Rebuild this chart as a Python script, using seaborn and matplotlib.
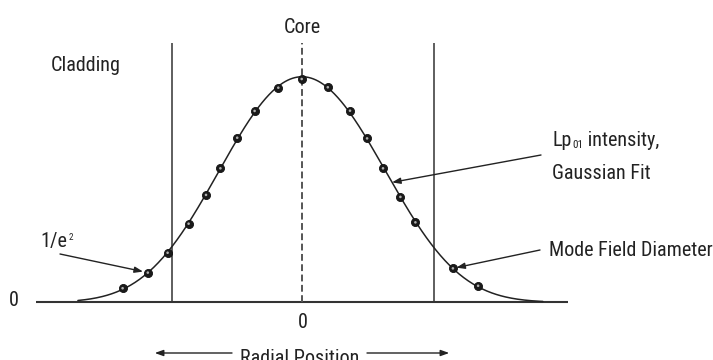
import numpy as np
import pandas as pd
import matplotlib
matplotlib.use("Agg")
import matplotlib.pyplot as plt
from matplotlib import font_manager
import seaborn as sns

# Sampled LP01 intensity profile (radial position in µm, normalised intensity)
radial_um = [-5.97, -5.13, -4.47, -3.77, -3.19, -2.71, -2.15, -1.57, -0.78, 0.0,
             0.87, 1.61, 2.18, 2.71, 3.29, 3.79, 5.04, 5.88]
intensity = [0.063, 0.133, 0.222, 0.352, 0.481, 0.600, 0.737, 0.857, 0.961, 1.0,
             0.963, 0.858, 0.734, 0.600, 0.472, 0.358, 0.152, 0.074]

core_edges_um = [-4.31, 4.41]
axis_ticks = ["0", "0"]

sns.set_style("white")


def pick_condensed_font():
    """Return a FontProperties for a narrow sans face if one is installed."""
    files = font_manager.findSystemFonts()
    prefs = ["LiberationSansNarrow-Regular", "RobotoCondensed-Regular",
             "Roboto_Condensed-Regular", "DejaVuSansCondensed.", "OpenSans_Condensed-Regular",
             "OpenSansCondensed", "NotoSans-Condensed.", "NotoSansCondensed-Regular"]
    for key in prefs:
        for f in files:
            if key.lower() in f.lower().replace(" ", ""):
                return font_manager.FontProperties(fname=f)
    for f in files:
        low = f.lower()
        if ("condensed" in low or "narrow" in low) and "bold" not in low and "italic" not in low \
                and "oblique" not in low:
            return font_manager.FontProperties(fname=f)
    return font_manager.FontProperties(family="DejaVu Sans", stretch="condensed")


base_font = pick_condensed_font()


def font(size):
    fp = base_font.copy()
    fp.set_size(size)
    return fp


W, H = 713, 360
fig = plt.figure(figsize=(W / 100, H / 100), dpi=100)
ax = fig.add_axes([0, 0, 1, 1])

# pixel frame: centre of profile at x=301.7 px, baseline at y=302.3 px
X0, Y0, SX, SY = 301.7, 302.3, 30.0, 223.3


def fpos(px, py):
    return px / W, 1 - py / H


ink = "#222222"
fs = 14.5

df = pd.DataFrame({"r": radial_um, "I": intensity})

# Gaussian-type fit in log space (quadratic plus quartic correction)
coef = np.polyfit(df["r"], np.log(df["I"]), 4, w=df["I"])
r_fit = np.linspace(-7.46, 8.04, 400)
fit = pd.DataFrame({"r": r_fit, "I": np.exp(np.polyval(coef, r_fit))})

# baseline, core boundaries and core axis
ax.hlines(0, (36 - X0) / SX, (568 - X0) / SX, color="#333333", lw=1.5, zorder=1)
top = (Y0 - 43) / SY
ax.vlines(core_edges_um, 0, top, color="#333333", lw=1.1, zorder=1)
ax.vlines(0, 0, top, color="#555555", lw=1.4, linestyles=(0, (3.5, 1.8)), zorder=1)

sns.lineplot(data=fit, x="r", y="I", color=ink, lw=1.1, ax=ax, zorder=2, legend=False)
sns.scatterplot(data=df, x="r", y="I", s=34, color="#1a1a1a", edgecolor="#111111",
                linewidth=0.6, ax=ax, zorder=3, legend=False)
sns.scatterplot(data=df, x="r", y="I", s=3.5, color="#b0b0b0", edgecolor="none",
                ax=ax, zorder=4, legend=False)
ax.set_xlim(-X0 / SX, (W - X0) / SX)
ax.set_ylim(-(H - Y0) / SY, Y0 / SY)
ax.set_axis_off()

# labels
fig.text(*fpos(51, 71), "Cladding", fontproperties=font(fs), color=ink, va="baseline", ha="left")
fig.text(*fpos(302, 33), "Core", fontproperties=font(fs), color=ink, va="baseline", ha="center")
fig.text(*fpos(14, 301), axis_ticks[0], fontproperties=font(fs), color=ink, va="center", ha="center")
fig.text(*fpos(303, 322), axis_ticks[1], fontproperties=font(fs), color=ink, va="center", ha="center")
fig.text(*fpos(300, 364), "Radial Position", fontproperties=font(fs), color=ink,
         va="baseline", ha="center")

arrow_kw = dict(arrowstyle="-|>,head_length=0.5,head_width=0.18", color=ink, lw=1.0,
                shrinkA=0)

# Radial position arrows
ax.annotate("", xy=fpos(152, 353), xycoords="figure fraction",
            xytext=fpos(232, 353), textcoords="figure fraction", arrowprops=arrow_kw)
ax.annotate("", xy=fpos(452, 353), xycoords="figure fraction",
            xytext=fpos(367, 353), textcoords="figure fraction", arrowprops=arrow_kw)

# 1/e² marker
t = fig.text(*fpos(40, 247), "1/e", fontproperties=font(fs), color=ink, va="baseline", ha="left")
ax.annotate("2", xy=(1.0, 1.0), xycoords=t, xytext=(1, -1), textcoords="offset points",
            fontproperties=font(6.5), color=ink, va="top", ha="left")
ax.annotate("", xy=(radial_um[1], intensity[1]), xytext=fpos(60, 254),
            textcoords="figure fraction", arrowprops=dict(arrow_kw, shrinkB=3.5))

# LP01 intensity label
t1 = fig.text(*fpos(552, 146), "Lp", fontproperties=font(fs), color=ink, va="baseline", ha="left")
t2 = ax.annotate("01", xy=(1.0, 0.0), xycoords=t1, xytext=(0.5, 0),
                 textcoords="offset points", fontproperties=font(8), color=ink,
                 va="bottom", ha="left")
ax.annotate(" intensity,", xy=(1.0, 0.0), xycoords=t2, fontproperties=font(fs), color=ink,
            va="bottom", ha="left")
fig.text(*fpos(552, 179), "Gaussian Fit", fontproperties=font(fs), color=ink,
         va="baseline", ha="left")
r_arrow = 3.01
ax.annotate("", xy=(r_arrow, np.exp(np.polyval(coef, r_arrow))), xytext=fpos(541, 155),
            textcoords="figure fraction", arrowprops=dict(arrow_kw, shrinkB=0))

# Mode field diameter label
fig.text(*fpos(549, 256), "Mode Field Diameter", fontproperties=font(fs), color=ink,
         va="baseline", ha="left")
ax.annotate("", xy=(radial_um[16], intensity[16]), xytext=fpos(540, 250),
            textcoords="figure fraction", arrowprops=dict(arrow_kw, shrinkB=2.5))

fig.savefig("out.png", dpi=100)
